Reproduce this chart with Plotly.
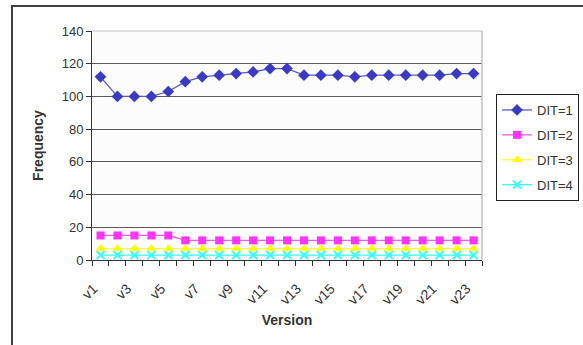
import plotly.graph_objects as go

versions = [f"v{i}" for i in range(1, 24)]
dit1 = [112, 100, 100, 100, 103, 109, 112, 113, 114, 115, 117, 117, 113, 113, 113, 112, 113, 113, 113, 113, 113, 114, 114]
dit2 = [15, 15, 15, 15, 15, 12, 12, 12, 12, 12, 12, 12, 12, 12, 12, 12, 12, 12, 12, 12, 12, 12, 12]
dit3 = [7] * 23
dit4 = [3] * 23
y_ticks = [0, 20, 40, 60, 80, 100, 120, 140]

series = [
    ("DIT=1", dit1, "#3a3ac4", "#5858cc", "diamond", 9),
    ("DIT=2", dit2, "#ff33ff", "#ff55ff", "square", 8),
    ("DIT=3", dit3, "#ffff00", "#ffff33", "triangle-up", 9),
    ("DIT=4", dit4, "#33ffff", "#33ffff", "x-thin-open", 8),
]

fig = go.Figure()
for i, (name, vals, mc, lc, sym, sz) in enumerate(series):
    marker = dict(symbol=sym, size=sz, color=mc)
    if sym == "x-thin-open":
        marker["line"] = dict(color=mc, width=2)
    fig.add_trace(go.Scatter(
        x=versions, y=vals, name=name, mode="lines+markers",
        line=dict(color=lc, width=1.3), marker=marker,
        legendgroup=name,
    ))

L, R, T, B = 92, 101, 31, 85
W, H = 583, 345
pw, ph = W - L - R, H - T - B

fig.update_layout(
    width=W, height=H,
    margin=dict(l=L, r=R, t=T, b=B, autoexpand=False),
    paper_bgcolor="white",
    plot_bgcolor="#fcfcfc",
    font=dict(family="Liberation Sans, Arial", size=13, color="#333333"),
    showlegend=True,
    legend=dict(
        x=(496 - L) / pw, y=(H - B - 94) / ph, xanchor="left", yanchor="top",
        bordercolor="#222222", borderwidth=1, bgcolor="white",
        font=dict(size=13, color="#333333"),
        tracegroupgap=5, traceorder="grouped",
    ),
    xaxis=dict(
        type="category", categoryorder="array", categoryarray=versions,
        tickmode="array", tickvals=versions,
        ticktext=[v if i % 2 == 0 else "" for i, v in enumerate(versions)],
        tickson="boundaries", ticks="outside", ticklen=5, tickcolor="#333333",
        tickangle=-45, tickfont=dict(size=14),
        ticklabelstandoff=14, ticklabelshift=-7,
        showline=True, linecolor="#333333", linewidth=1,
        showgrid=False, zeroline=False, automargin=False,
        range=[-0.5, 22.5],
        title=dict(text="<b>Version</b>", font=dict(size=14), standoff=8),
        mirror=False,
    ),
    yaxis=dict(
        range=[0, 140], tickvals=y_ticks, ticks="outside", ticklen=5,
        tickcolor="#333333", tickfont=dict(size=13),
        showline=True, linecolor="#333333", linewidth=1,
        showgrid=True, gridcolor="#5a5a5a", gridwidth=1,
        zeroline=False, automargin=False,
        title=dict(text="<b>Frequency</b>", font=dict(size=14), standoff=14),
    ),
    shapes=[
        dict(type="rect", xref="paper", yref="paper",
             x0=(12 - L) / pw, x1=(W + 20 - L) / pw,
             y0=(H - B - (H + 20)) / ph, y1=(H - B - 6) / ph,
             line=dict(color="#404040", width=2), fillcolor="rgba(0,0,0,0)", layer="below"),
        dict(type="line", xref="paper", yref="paper", x0=0, x1=1, y0=1, y1=1,
             line=dict(color="#c0c0c0", width=1)),
        dict(type="line", xref="paper", yref="paper", x0=1, x1=1, y0=0, y1=1,
             line=dict(color="#c0c0c0", width=1.5)),
    ],
)

fig.write_html("out.html", config={"displayModeBar": False},
               post_script="document.body.style.margin='0';document.body.style.overflow='hidden';")
